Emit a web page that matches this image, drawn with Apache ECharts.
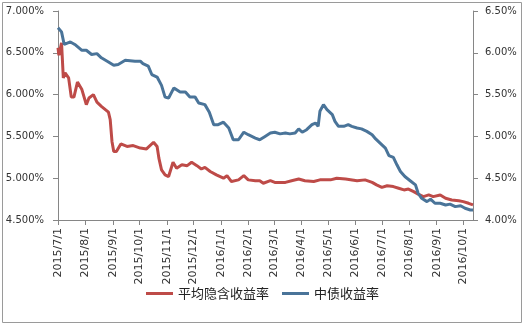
<!DOCTYPE html>
<html><head><meta charset="utf-8">
<script src="https://cdn.jsdelivr.net/npm/echarts@6/dist/echarts.min.js"></script>
<style>html,body{margin:0;padding:0;background:#fff}#c{width:525px;height:327px}</style>
</head><body><div id="c"></div>
<script>
// 平均隐含收益率 (left axis)
const redDates = ['2015-07-01','2015-07-02','2015-07-05','2015-07-07','2015-07-09','2015-07-13','2015-07-16','2015-07-19','2015-07-23','2015-07-28',
'2015-08-02','2015-08-05','2015-08-10','2015-08-14','2015-08-19','2015-08-27','2015-08-29','2015-08-31','2015-09-02','2015-09-05',
'2015-09-10','2015-09-17','2015-09-24','2015-10-02','2015-10-09','2015-10-17','2015-10-21','2015-10-23','2015-10-26','2015-10-30',
'2015-11-03','2015-11-08','2015-11-12','2015-11-18','2015-11-24','2015-11-29','2015-12-05','2015-12-10','2015-12-14','2015-12-20',
'2015-12-27','2016-01-04','2016-01-08','2016-01-13','2016-01-21','2016-01-27','2016-02-01','2016-02-09','2016-02-14','2016-02-18',
'2016-02-26','2016-03-02','2016-03-14','2016-03-21','2016-03-29','2016-04-05','2016-04-15','2016-04-22','2016-05-04','2016-05-11',
'2016-05-21','2016-06-03','2016-06-12','2016-06-20','2016-06-25','2016-07-01','2016-07-07','2016-07-14','2016-07-20','2016-07-26',
'2016-07-31','2016-08-06','2016-08-11','2016-08-17','2016-08-23','2016-08-28','2016-09-05','2016-09-11','2016-09-18','2016-09-26',
'2016-10-01','2016-10-07','2016-10-12'];
const redValues = [6.56,6.47,6.62,6.20,6.26,6.20,5.97,5.97,6.15,6.06,
5.88,5.96,6.00,5.91,5.86,5.79,5.70,5.44,5.32,5.32,
5.41,5.38,5.39,5.36,5.35,5.43,5.38,5.24,5.10,5.04,
5.02,5.19,5.12,5.16,5.15,5.19,5.15,5.11,5.13,5.08,
5.04,5.00,5.03,4.96,4.98,5.03,4.98,4.97,4.97,4.94,
4.97,4.95,4.95,4.97,4.99,4.97,4.96,4.98,4.98,5.00,
4.99,4.97,4.98,4.95,4.92,4.89,4.91,4.90,4.88,4.86,
4.87,4.84,4.81,4.78,4.80,4.78,4.80,4.76,4.74,4.73,
4.72,4.70,4.68];
// 中债收益率 (right axis)
const blueDates = ['2015-07-01','2015-07-05','2015-07-08','2015-07-15','2015-07-20','2015-07-28','2015-08-02','2015-08-08','2015-08-14','2015-08-19',
'2015-08-27','2015-09-02','2015-09-07','2015-09-15','2015-09-26','2015-10-02','2015-10-05','2015-10-11','2015-10-15','2015-10-21',
'2015-10-26','2015-10-30','2015-11-03','2015-11-09','2015-11-16','2015-11-22','2015-11-27','2015-12-03','2015-12-07','2015-12-14',
'2015-12-19','2015-12-24','2015-12-29','2016-01-04','2016-01-10','2016-01-15','2016-01-21','2016-01-27','2016-02-01','2016-02-09',
'2016-02-14','2016-02-20','2016-02-26','2016-03-02','2016-03-08','2016-03-14','2016-03-19','2016-03-25','2016-03-29','2016-04-02',
'2016-04-07','2016-04-13','2016-04-17','2016-04-20','2016-04-22','2016-04-26','2016-04-30','2016-05-06','2016-05-09','2016-05-13',
'2016-05-19','2016-05-24','2016-05-28','2016-06-03','2016-06-08','2016-06-14','2016-06-20','2016-06-24','2016-06-29','2016-07-05',
'2016-07-09','2016-07-14','2016-07-18','2016-07-22','2016-07-27','2016-08-02','2016-08-08','2016-08-11','2016-08-15','2016-08-21',
'2016-08-25','2016-08-30','2016-09-05','2016-09-11','2016-09-16','2016-09-22','2016-09-28','2016-10-03','2016-10-09','2016-10-12'];
const blueValues = [6.30,6.25,6.10,6.13,6.10,6.03,6.03,5.98,5.99,5.94,
5.89,5.85,5.86,5.91,5.90,5.90,5.87,5.84,5.74,5.71,
5.61,5.47,5.46,5.58,5.53,5.53,5.47,5.47,5.40,5.38,
5.29,5.14,5.14,5.17,5.10,4.96,4.96,5.05,5.02,4.98,
4.96,5.00,5.04,5.05,5.03,5.04,5.03,5.04,5.09,5.05,
5.08,5.14,5.16,5.12,5.30,5.38,5.32,5.26,5.18,5.12,
5.12,5.14,5.12,5.10,5.09,5.06,5.02,4.97,4.92,4.86,
4.77,4.75,4.66,4.58,4.52,4.47,4.42,4.32,4.26,4.22,
4.25,4.20,4.20,4.18,4.19,4.16,4.17,4.14,4.12,4.12];
const tickDates = ['2015-07-01','2015-08-01','2015-09-01','2015-10-01','2015-11-01','2015-12-01','2016-01-01','2016-02-01',
'2016-03-01','2016-04-01','2016-05-01','2016-06-01','2016-07-01','2016-08-01','2016-09-01','2016-10-01'];
const seriesNames = ['平均隐含收益率','中债收益率'];

function ts(s){const p=s.split('-').map(Number);return Date.UTC(p[0],p[1]-1,p[2]);}
const tickTs = tickDates.map(ts);
const chart = echarts.init(document.getElementById('c'));
chart.setOption({
  animation:false,
  backgroundColor:'#fff',
  textStyle:{fontFamily:'DejaVu Sans'},
  graphic:[{type:'rect',shape:{x:2.5,y:2.5,width:519,height:320},style:{fill:'none',stroke:'#9a9a9a',lineWidth:1},silent:true}],
  grid:{left:58,right:52,top:11,bottom:107,containLabel:false},
  legend:{bottom:22,left:'center',icon:'rect',itemWidth:27,itemHeight:3,itemGap:13,
    textStyle:{fontSize:13,color:'#222',fontFamily:'Noto Sans CJK SC'},data:seriesNames},
  xAxis:{type:'value',min:ts('2015-07-01'),max:ts('2016-10-12'),
    axisLine:{lineStyle:{color:'#868686',width:1}},
    axisTick:{show:true,length:5,customValues:tickTs,lineStyle:{color:'#868686'}},
    axisLabel:{customValues:tickTs,rotate:90,margin:8,fontSize:11,color:'#333',hideOverlap:false,showMinLabel:true,showMaxLabel:true,
      formatter:function(v){const d=new Date(v);return d.getUTCFullYear()+'/'+(d.getUTCMonth()+1)+'/'+d.getUTCDate();}},
    splitLine:{show:false}},
  yAxis:[
    {type:'value',min:4.5,max:7,interval:0.5,
     axisLine:{show:true,lineStyle:{color:'#868686'}},axisTick:{show:true,length:5,lineStyle:{color:'#868686'}},
     axisLabel:{fontSize:10,color:'#333',margin:14,formatter:v=>v.toFixed(3)+'%'},splitLine:{show:false}},
    {type:'value',min:4,max:6.5,interval:0.5,position:'right',
     axisLine:{show:true,lineStyle:{color:'#868686'}},axisTick:{show:true,length:5,lineStyle:{color:'#868686'}},
     axisLabel:{fontSize:10,color:'#333',margin:12,formatter:v=>v.toFixed(2)+'%'},splitLine:{show:false}}
  ],
  series:[
    {name:seriesNames[0],type:'line',yAxisIndex:0,showSymbol:false,symbol:'none',
     lineStyle:{color:'#BE4B48',width:3},itemStyle:{color:'#BE4B48'},
     data:redDates.map((d,i)=>[ts(d),redValues[i]])},
    {name:seriesNames[1],type:'line',yAxisIndex:1,showSymbol:false,symbol:'none',
     lineStyle:{color:'#4A7499',width:3},itemStyle:{color:'#4A7499'},
     data:blueDates.map((d,i)=>[ts(d),blueValues[i]])}
  ]
});
</script></body></html>
